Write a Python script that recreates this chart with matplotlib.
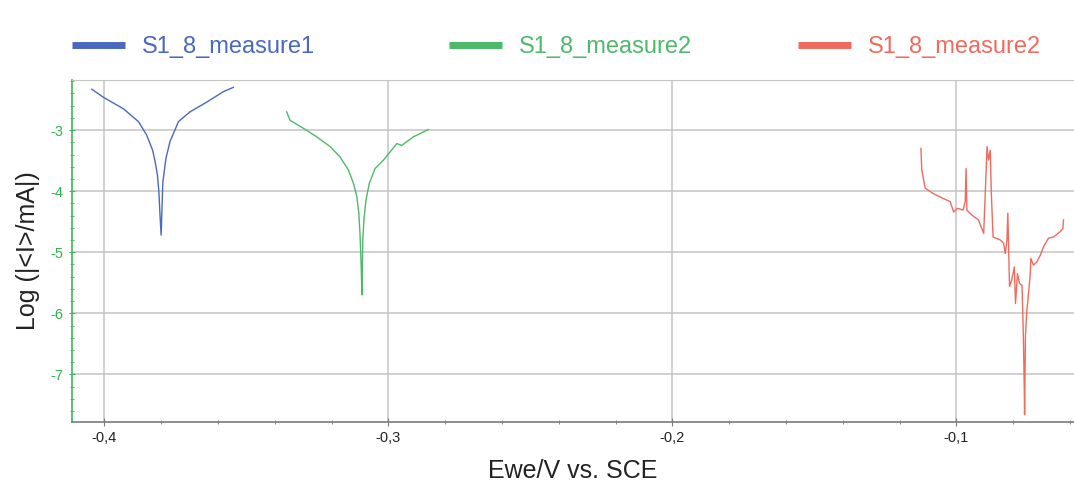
import numpy as np
import matplotlib
matplotlib.use('Agg')
import matplotlib.pyplot as plt
from matplotlib.ticker import MultipleLocator, FuncFormatter

plt.rcParams['font.family'] = ['Liberation Sans', 'DejaVu Sans']

m1_x = [-0.4044, -0.4004, -0.3933, -0.3880, -0.3851, -0.3830, -0.3821, -0.3813,
        -0.3808, -0.3804, -0.3800, -0.3797, -0.3794, -0.3783, -0.3769, -0.3739,
        -0.3698, -0.3639, -0.3581, -0.3546]
m1_y = [-2.33, -2.46, -2.65, -2.86, -3.08, -3.33, -3.52, -3.74,
        -4.01, -4.39, -4.72, -4.28, -3.85, -3.46, -3.19, -2.86,
        -2.70, -2.54, -2.37, -2.30]

m2_x = [-0.3358, -0.3346, -0.3299, -0.3252, -0.3205, -0.3170, -0.3141, -0.3123,
        -0.3111, -0.3104, -0.3100, -0.3096, -0.3093, -0.3090, -0.3086, -0.3079,
        -0.3067, -0.3047, -0.3017, -0.2970, -0.2953, -0.2912, -0.2859]
m2_y = [-2.70, -2.84, -2.97, -3.11, -3.27, -3.44, -3.65, -3.87,
        -4.09, -4.36, -4.69, -5.18, -5.70, -4.80, -4.47, -4.15,
        -3.87, -3.63, -3.49, -3.22, -3.25, -3.11, -2.99]

m3_x = [-0.1125, -0.1122, -0.1110, -0.1081, -0.1046, -0.1022, -0.1010, -0.0996,
        -0.0977, -0.0969, -0.0966, -0.0963, -0.0946, -0.0922, -0.0916, -0.0904,
        -0.0892, -0.0887, -0.0881, -0.0877, -0.0871, -0.0845, -0.0834, -0.0828,
        -0.0822, -0.0819, -0.0813, -0.0805, -0.0796, -0.0792, -0.0785, -0.0778,
        -0.0769, -0.0766, -0.0764, -0.0761, -0.0760, -0.0757, -0.0752, -0.0746,
        -0.0740, -0.0738, -0.0729, -0.0717, -0.0705, -0.0693, -0.0676, -0.0658,
        -0.0634, -0.0625, -0.0623]
m3_y = [-3.30, -3.65, -3.95, -4.04, -4.12, -4.17, -4.34, -4.28,
        -4.31, -4.17, -3.63, -4.31, -4.39, -4.47, -4.55, -4.69,
        -3.27, -3.49, -3.33, -4.04, -4.75, -4.80, -4.85, -5.02,
        -4.80, -4.36, -5.56, -5.45, -5.24, -5.84, -5.35, -5.51,
        -5.54, -6.06, -6.44, -7.26, -7.66, -6.38, -5.95, -5.67,
        -5.35, -5.10, -5.21, -5.16, -5.05, -4.91, -4.77, -4.75,
        -4.66, -4.61, -4.47]

labels = ['S1_8_measure1', 'S1_8_measure2', 'S1_8_measure2']
colors = ['#4a68bf', '#4cba68', '#f06a5e']

fig = plt.figure(figsize=(10.74, 4.83), dpi=100)
ax = fig.add_axes([0.067, 0.127, 0.933, 0.707])

series = [(m1_x, m1_y), (m2_x, m2_y), (m3_x, m3_y)]
lines = []
for (xs, ys), c, lab in zip(series, colors, labels):
    ln, = ax.plot(xs, ys, color=c, lw=1.0, label=lab)
    lines.append(ln)

ax.set_xlim(-0.4114, -0.0586)
ax.set_ylim(-7.774, -2.182)
ax.xaxis.set_major_locator(MultipleLocator(0.1))
ax.xaxis.set_minor_locator(MultipleLocator(0.02))
ax.yaxis.set_major_locator(MultipleLocator(1))
ax.yaxis.set_minor_locator(MultipleLocator(0.2))
ax.xaxis.set_major_formatter(FuncFormatter(lambda v, p: ('%.1f' % v).replace('.', ',')))
ax.yaxis.set_major_formatter(FuncFormatter(lambda v, p: '%d' % round(v)))

ax.grid(True, which='major', color='#c4c4c4', lw=1.1)
ax.set_axisbelow(True)
ax.spines['left'].set_color('#3cb65a')
ax.spines['left'].set_linewidth(1.2)
ax.spines['bottom'].set_color('#7a7a7a')
ax.spines['bottom'].set_linewidth(1.2)
ax.spines['top'].set_color('#c4c4c4')
ax.spines['right'].set_visible(False)

ax.tick_params(axis='y', which='both', direction='inout', colors='#3cb65a',
               labelcolor='#2fb350', labelsize=10.5)
ax.tick_params(axis='y', which='major', length=5)
ax.tick_params(axis='y', which='minor', length=3)
ax.tick_params(axis='x', which='both', direction='inout', colors='#7a7a7a',
               labelcolor='#222222', labelsize=10.5)
ax.tick_params(axis='x', which='major', length=6)
ax.tick_params(axis='x', which='minor', length=3)

ax.set_xlabel('Ewe/V vs. SCE', fontsize=18, color='#222222', labelpad=10)
ax.set_ylabel('Log (|<I>/mA|)', fontsize=18, color='#222222', labelpad=8)

# three separate legend entries along the top
leg_x = [0.0475, 0.3985, 0.7235]
for ln, c, lx in zip(lines, colors, leg_x):
    leg = fig.legend([ln], [ln.get_label()], loc='center left',
                     bbox_to_anchor=(lx, 0.903), frameon=False, fontsize=17,
                     handlelength=2.25, handletextpad=0.7, labelcolor=c)
    for h in leg.legend_handles:
        h.set_linewidth(5)
        h.set_solid_capstyle('butt')

fig.savefig('out.png', dpi=100)
